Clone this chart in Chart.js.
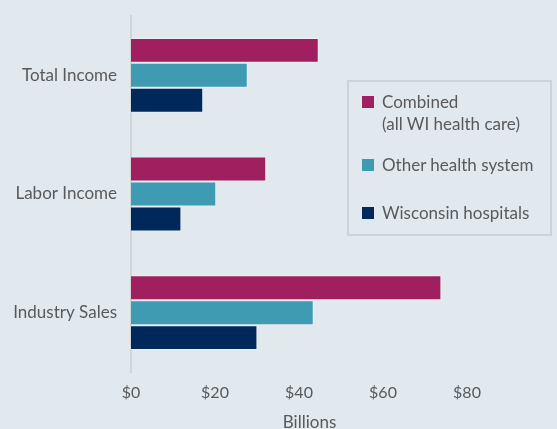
<!DOCTYPE html>
<html lang="en">
<head>
    <meta charset="UTF-8">
    <title>Economic impact of Wisconsin health care</title>
    <script src="https://cdn.jsdelivr.net/npm/chart.js"></script>
    <style>
        html, body { margin: 0; padding: 0; background: #e1e9ef; }
        #wrap { position: relative; width: 557px; height: 429px; overflow: hidden; }
        #legend {
            position: absolute; left: 347px; top: 80px; width: 201px; height: 152px;
            border: 2px solid #cdd3d6; font-family: Lato, sans-serif; font-size: 17px; color: #595959;
        }
        .item { position: absolute; left: 13px; line-height: 22px; }
        .sw { position: absolute; left: 0; top: 5px; width: 12px; height: 12px; }
        .txt { position: absolute; left: 20px; white-space: nowrap; }
    </style>
</head>
<body>
<div id="wrap">
    <canvas id="impactChart" width="557" height="429"></canvas>
    <div id="legend"></div>
</div>
<script>
    // values in billions of dollars
    const categories = ['Total Income', 'Labor Income', 'Industry Sales'];
    const combined = [44.7, 32.2, 73.9];
    const otherHealth = [27.8, 20.3, 43.5];
    const wiHospitals = [17.2, 12.0, 30.1];
    const tickValues = [0, 20, 40, 60, 80];

    const seriesNames = ['Combined\n(all WI health care)', 'Other health system', 'Wisconsin hospitals'];
    const colors = ['#a01f5f', '#3f9bb1', '#00285a'];

    const ctx = document.getElementById('impactChart').getContext('2d');
    const chart = new Chart(ctx, {
        type: 'bar',
        data: {
            labels: categories,
            datasets: [combined, otherHealth, wiHospitals].map((d, i) => ({
                label: seriesNames[i],
                data: d,
                backgroundColor: colors[i],
                borderColor: 'rgba(255,255,255,0.35)',
                borderWidth: 1,
                barPercentage: 1,
                categoryPercentage: 0.63
            }))
        },
        options: {
            indexAxis: 'y',
            responsive: false,
            animation: false,
            layout: { padding: { top: 16, right: 69, left: 0, bottom: 0 } },
            plugins: { legend: { display: false }, tooltip: { enabled: false } },
            scales: {
                x: {
                    min: 0,
                    max: 85,
                    afterBuildTicks: axis => { axis.ticks = tickValues.map(v => ({ value: v })); },
                    grid: { display: false, drawTicks: false },
                    border: { display: false },
                    ticks: {
                        padding: 11,
                        color: '#595959',
                        font: { family: 'Lato', size: 16 },
                        callback: v => '$' + v
                    },
                    title: {
                        display: true,
                        text: 'Billions',
                        color: '#595959',
                        font: { family: 'Lato', size: 17 },
                        padding: { top: 8, bottom: -4 }
                    },
                    afterFit: axis => { axis.height = 57; axis.paddingLeft = 0; axis.paddingRight = 0; }
                },
                y: {
                    grid: { display: false, drawTicks: false },
                    border: { display: true, color: '#cfd5d8', width: 2 },
                    ticks: {
                        padding: 14,
                        color: '#595959',
                        font: { family: 'Lato', size: 17 }
                    },
                    afterFit: axis => { axis.width = 131; axis.paddingTop = 0; axis.paddingBottom = 0; }
                }
            }
        }
    });

    // legend box, same layout as the original
    const legend = document.getElementById('legend');
    const tops = [9, 72, 120];
    seriesNames.forEach((name, i) => {
        const item = document.createElement('div');
        item.className = 'item';
        item.style.top = tops[i] + 'px';
        item.innerHTML = '<div class="sw" style="background:' + colors[i] + '"></div>' +
            '<div class="txt">' + name.replace('\n', '<br>') + '</div>';
        legend.appendChild(item);
    });
</script>
</body>
</html>
